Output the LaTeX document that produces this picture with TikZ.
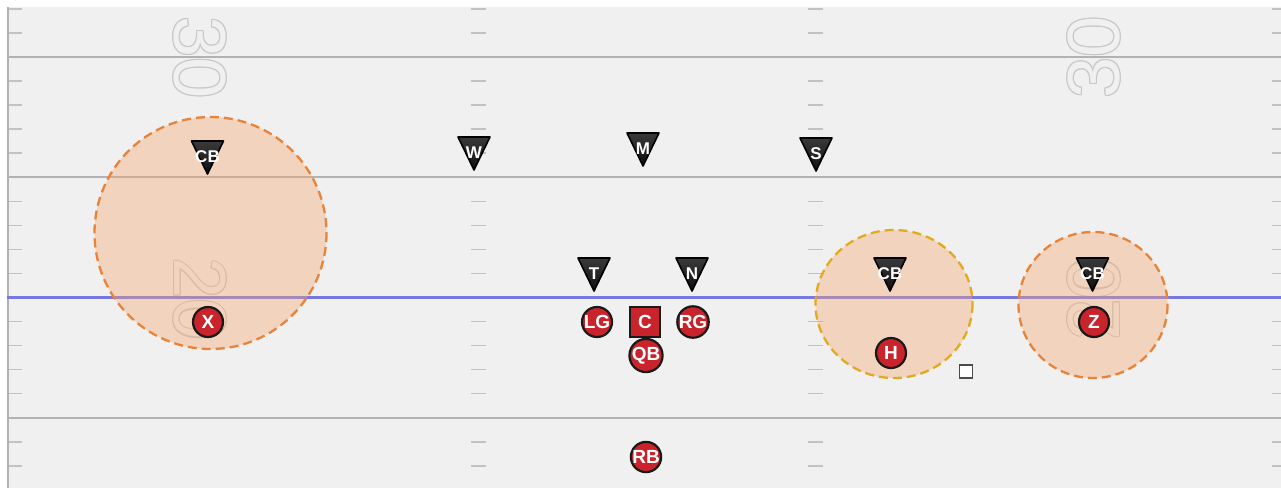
\documentclass[tikz,border=0pt]{standalone}
\usepackage{fontspec}
\setmainfont{Liberation Sans}
\definecolor{fieldbg}{HTML}{F0F0F0}
\definecolor{yardc}{HTML}{B2B2B2}
\definecolor{hashc}{HTML}{C2C2C2}
\definecolor{losblue}{HTML}{7878E2}
\definecolor{numc}{HTML}{C8C8C8}
\definecolor{zonefill}{HTML}{F6A66C}
\definecolor{zoneorange}{HTML}{E8833A}
\definecolor{zonegold}{HTML}{E2AA1E}
\definecolor{offred}{HTML}{C9232B}
\definecolor{deftop}{HTML}{3A3A3A}
\definecolor{defbot}{HTML}{0E0E0E}
\newcommand\DefTri[4]{%
  \path[top color=deftop, bottom color=defbot, draw=black, line width=1.6pt, line join=round]
    (#2-16,#3) -- (#2+16,#3) -- (#2,#3+33) -- cycle;
  \node[dlab] (#1) at (#2,#3+16) {#4};
}
\newcommand\FieldNum[5]{%
  \foreach \dx/\dy in {-1.1/0,1.1/0,0/-1.1,0/1.1,-0.8/-0.8,0.8/-0.8,-0.8/0.8,0.8/0.8}
    {\node[numtxt, text=numc, rotate=#4] at (#2+\dx,#3+\dy) {#5};}
  \node[numtxt, text=fieldbg, rotate=#4] (#1) at (#2,#3) {#5};
}
\begin{document}
\begin{tikzpicture}[x=1pt,y=-1pt,
  dlab/.style={inner sep=0pt, text=white, font=\fontsize{17}{17}\selectfont\bfseries},
  offp/.style={circle, minimum size=30pt, inner sep=0pt, fill=offred, draw=black!90, line width=2.2pt,
     text=white, font=\fontsize{19}{19}\selectfont\bfseries},
  offsq/.style={rectangle, minimum size=30pt, inner sep=0pt, fill=offred, draw=black!90, line width=2.2pt,
     text=white, font=\fontsize{19}{19}\selectfont\bfseries},
  numtxt/.style={inner sep=0pt, font=\fontsize{74}{74}\selectfont},
  zone/.style={fill=zonefill, fill opacity=0.38, dash pattern=on 9pt off 5pt, line width=2.3pt},
  hashl/.style={draw=hashc, line width=1.5pt},
  yardl/.style={draw=yardc, line width=2pt}]
\useasboundingbox (0,0) rectangle (1281,488);
\fill[white] (0,0) rectangle (1281,488);
\fill[fieldbg] (7,7) rectangle (1281,488);
% hash marks
\foreach \k in {-2,-1,1,2,3,4,6,7,8,9,11,12,13,14,16,17}{
  \pgfmathsetmacro\yy{57+24.05*\k}
  \draw[hashl] (8,\yy) -- (22,\yy);
  \draw[hashl] (471,\yy) -- (486,\yy);
  \draw[hashl] (808,\yy) -- (823,\yy);
  \draw[hashl] (1272,\yy) -- (1281,\yy);
}
% yard lines
\draw[yardl] (7,57) -- (1281,57);
\draw[yardl] (7,177) -- (1281,177);
\draw[yardl] (7,418) -- (1281,418);
\draw[yardl] (7.5,7) -- (7.5,488);
% field numbers
\FieldNum{n30l}{200}{57.5}{-90}{30}
\FieldNum{n30r}{1094}{57.5}{90}{30}
\FieldNum{n20l}{200}{299}{-90}{20}
\FieldNum{n20r}{1094}{299}{90}{20}
% line of scrimmage
\draw[losblue, line width=3.5pt] (7,297.5) -- (1281,297.5);
% zones
\draw[zone, draw=zoneorange] (210.5,233) circle[radius=116];
\draw[zone, draw=zonegold] (894,304) ellipse[x radius=78.5, y radius=74];
\draw[zone, draw=zoneorange] (1093,305) ellipse[x radius=74.5, y radius=73];
% defense
\DefTri{cbl}{207.5}{141}{CB}
\DefTri{w}{474}{137}{W}
\DefTri{m}{643}{133}{M}
\DefTri{s}{816}{138}{S}
\DefTri{t}{594}{258}{T}
\DefTri{n}{692}{258}{N}
\DefTri{cbh}{890}{258}{CB}
\DefTri{cbr}{1092.5}{258}{CB}
% offense
\node[offp] (x) at (208,322) {X};
\node[offp] (lg) at (597,322) {LG};
\node[offsq] (c) at (645,322) {C};
\node[offp] (rg) at (693,322) {RG};
\node[offp] (qb) at (646,355.5) {QB};
\node[offp] (h) at (891,353) {H};
\node[offp] (z) at (1094,322) {Z};
\node[offp] (rb) at (646,457) {RB};
\node[rectangle, minimum size=13pt, inner sep=0pt, fill=white, draw=black!70, line width=1.2pt] (sq) at (966,371.5) {};
\end{tikzpicture}
\end{document}
